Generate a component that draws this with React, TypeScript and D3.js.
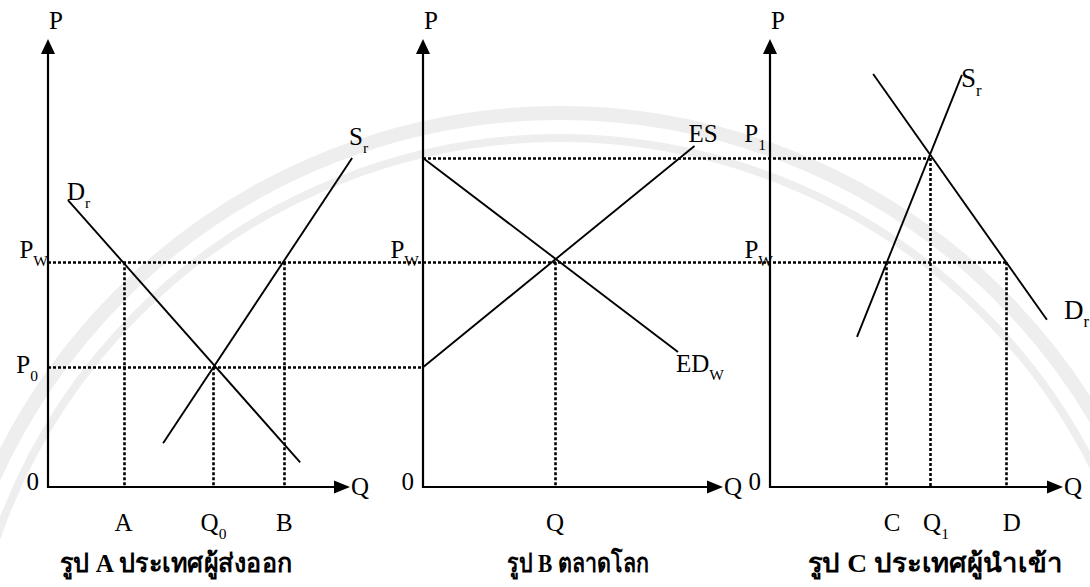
import React, { useRef, useEffect } from 'react';
import * as d3 from 'd3';

// three panels: exporter (A), world market (B), importer (C)
// prices and quantities on a 0..100 scale
const panelTitles = ['รูป A ประเทศผู้ส่งออก', 'รูป B ตลาดโลก', 'รูป C ประเทศผู้นำเข้า'];
const titleWidths = [233, 142, 255];

const priceNames = ['Pw', 'P0', 'P1'];
const priceValues = [50.3, 26.8, 73.6];

// curve end points [q, p]
const demandA = [[6.6, 64.2], [83.5, 5.5]];
const supplyA = [[38.1, 9.8], [100.7, 73.6]];
const excessSupply = [[0, 26.8], [90.5, 76.3]];
const excessDemand = [[0, 73.6], [85, 30.2]];
const supplyC = [[29.7, 33.6], [65.5, 92.2]];
const demandC = [[35.2, 92.4], [94.5, 37.4]];

// quantity markers [label, subscript, q, price it drops from]
const qMarksA = [['A', '', 25, 50.3], ['Q', '0', 54.8, 26.8], ['B', '', 78.3, 50.3]];
const qMarksB = [['Q', '', 44, 50.3]];
const qMarksC = [['C', '', 39.6, 50.3], ['Q', '1', 54.6, 73.6], ['D', '', 80.5, 50.3]];

const FONT = '"Liberation Serif", "Times New Roman", serif';

export default function App() {
  const ref = useRef(null);

  useEffect(() => {
    const width = 1090, height = 587;
    const svg = d3.select(ref.current);
    svg.selectAll('*').remove();
    svg.attr('width', width).attr('height', height).attr('viewBox', `0 0 ${width} ${height}`);

    svg.append('rect').attr('width', width).attr('height', height).attr('fill', '#fff');

    // faint watermark rings
    const wm = svg.append('g').attr('fill', 'none').attr('stroke', '#eeeeee');
    wm.append('circle').attr('cx', 560).attr('cy', 735).attr('r', 622).attr('stroke-width', 14);
    wm.append('circle').attr('cx', 560).attr('cy', 735).attr('r', 597).attr('stroke-width', 8);

    const axisY = 487;
    const y = d3.scaleLinear().domain([0, 100]).range([axisY, 40]);
    const xs = [
      d3.scaleLinear().domain([0, 100]).range([48, 350]),
      d3.scaleLinear().domain([0, 100]).range([423, 723]),
      d3.scaleLinear().domain([0, 100]).range([770, 1063]),
    ];
    const [xA, xB, xC] = xs;
    const price = (name) => priceValues[priceNames.indexOf(name)];
    const crisp = (v) => Math.round(v) + 0.5;

    const text = (x, yy, main, sub, opts = {}) => {
      const size = opts.size || 25;
      const t = svg.append('text')
        .attr('x', x).attr('y', yy)
        .attr('font-family', FONT)
        .attr('font-size', size)
        .attr('fill', '#000')
        .attr('text-anchor', opts.anchor || 'start');
      t.append('tspan').text(main);
      if (sub) {
        t.append('tspan').attr('font-size', size * 0.62).attr('dy', size * 0.32).text(sub);
      }
      return t;
    };

    const dotted = (x1, y1, x2, y2) => {
      const horiz = y1 === y2;
      return svg.append('line')
        .attr('x1', horiz ? x1 : crisp(x1)).attr('y1', horiz ? crisp(y1) : y1)
        .attr('x2', horiz ? x2 : crisp(x2)).attr('y2', horiz ? crisp(y2) : y2)
        .attr('stroke', '#000').attr('stroke-width', 2.6)
        .attr('stroke-dasharray', '3,2');
    };

    const solid = (xsc, pts) =>
      svg.append('path')
        .attr('d', d3.line().x((d) => xsc(d[0])).y((d) => y(d[1]))(pts))
        .attr('fill', 'none').attr('stroke', '#000').attr('stroke-width', 1.9);

    // dotted price lines across panels
    dotted(xA(0), y(price('Pw')), xC(qMarksC[2][2]), y(price('Pw')));
    dotted(xA(0), y(price('P0')), xB(0), y(price('P0')));
    dotted(xB(0), y(price('P1')), xC(qMarksC[1][2]), y(price('P1')));

    // dotted quantity drops
    [[xA, qMarksA], [xB, qMarksB], [xC, qMarksC]].forEach(([xsc, marks]) => {
      marks.forEach((m) => dotted(xsc(m[2]), y(m[3]), xsc(m[2]), axisY));
    });

    // axes with arrow heads
    xs.forEach((xsc) => {
      const x0 = xsc(0), x1 = xsc(100);
      svg.append('line').attr('x1', x0).attr('y1', axisY + 1).attr('x2', x0).attr('y2', 50)
        .attr('stroke', '#000').attr('stroke-width', 2.2);
      svg.append('line').attr('x1', x0 - 1).attr('y1', axisY).attr('x2', x1 - 12).attr('y2', axisY)
        .attr('stroke', '#000').attr('stroke-width', 2.2);
      svg.append('path').attr('d', `M${x0},${39}L${x0 - 7},${54}L${x0 + 7},${54}Z`).attr('fill', '#000');
      svg.append('path').attr('d', `M${x1},${axisY}L${x1 - 16},${axisY - 6.5}L${x1 - 16},${axisY + 6.5}Z`).attr('fill', '#000');
      text(x0 + 1, 29, 'P');
      text(x0 - 9, axisY + 3, '0', null, { anchor: 'end' });
      text(x1 + 1, axisY + 8, 'Q');
    });

    // curves
    solid(xA, demandA);
    solid(xA, supplyA);
    solid(xB, excessSupply);
    solid(xB, excessDemand);
    solid(xC, supplyC);
    solid(xC, demandC);

    // price labels
    text(xA(0), y(price('Pw')) - 4, 'P', 'W', { anchor: 'end' });
    text(xA(0) - 10, y(price('P0')) + 6, 'P', '0', { anchor: 'end' });
    text(xB(0) - 4, y(price('Pw')) - 4, 'P', 'W', { anchor: 'end' });
    text(xC(0) + 3, y(price('Pw')) - 4, 'P', 'W', { anchor: 'end' });
    text(xC(0) - 4, y(price('P1')) - 16, 'P', '1', { anchor: 'end' });

    // curve labels
    text(xA(demandA[0][0]) - 1, y(demandA[0][1]), 'D', 'r');
    text(xA(supplyA[1][0]) - 3, y(supplyA[1][1]) - 13, 'S', 'r');
    text(xB(excessSupply[1][0]) - 6, y(excessSupply[1][1]) - 4, 'ES');
    text(xB(excessDemand[1][0]) - 2, y(excessDemand[1][1]) + 20, 'ED', 'W');
    text(xC(supplyC[1][0]) - 1, y(supplyC[1][1]) + 12, 'S', 'r', { size: 27 });
    text(xC(demandC[1][0]) + 17, y(demandC[1][1]) - 1, 'D', 'r', { size: 27 });

    // quantity labels under the axis
    const qLabel = (xsc, marks, shift) => marks.forEach((m) => {
      text(xsc(m[2]) + shift, 531, m[0], m[1] || null, { anchor: 'middle' });
    });
    qLabel(xA, qMarksA, 0);
    qLabel(xB, qMarksB, 0);
    qLabel(xC, qMarksC, 6);

    // panel titles
    const titleX = [176, 578, 935];
    panelTitles.forEach((t, i) => {
      svg.append('text')
        .attr('x', titleX[i]).attr('y', 572)
        .attr('text-anchor', 'middle')
        .attr('font-family', FONT)
        .attr('font-weight', 'bold')
        .attr('font-size', 26)
        .attr('textLength', titleWidths[i])
        .attr('lengthAdjust', 'spacingAndGlyphs')
        .text(t);
    });
  }, []);

  return (
    <div style={{ position: 'absolute', left: 0, top: 0 }}>
      <svg ref={ref} style={{ display: 'block' }} />
    </div>
  );
}
